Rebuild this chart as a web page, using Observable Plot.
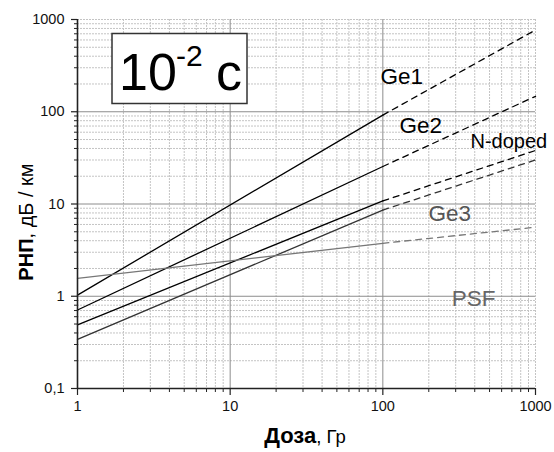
<!DOCTYPE html>
<html>
<head>
<meta charset="utf-8">
<script src="https://cdn.jsdelivr.net/npm/d3@7"></script>
<script src="https://cdn.jsdelivr.net/npm/@observablehq/plot@0.6"></script>
<style>
  html, body { margin: 0; padding: 0; background: #fff; }
  #chart { width: 554px; height: 452px; }
</style>
</head>
<body>
<div id="chart"></div>
<script>
// ---- data ----
const doses = [1, 100, 1000];              // Гр: start, end of measured part, end of extrapolation
const fibers = ["Ge1", "Ge2", "N-doped", "Ge3", "PSF"];
const ge1 = [1.03, 92, 770];
const ge2 = [0.71, 25.5, 147];
const nDoped = [0.49, 10.8, 38];
const ge3 = [0.34, 8.6, 30];
const psf = [1.56, 3.75, 5.6];
const lineColors = ["#000", "#000", "#000", "#333", "#777"];

const labelText = ["Ge1", "Ge2", "N-doped", "Ge3", "PSF"];
const labelX = [96.6, 128.5, 375, 199, 283];
const labelY = [199, 59.5, 40.9, 6.56, 0.79];
const labelColors = ["#000", "#000", "#000", "#555", "#666"];
const labelSizes = [22.5, 22.5, 20, 22.5, 22.5];

const xTicks = [1, 10, 100, 1000];
const xTickLabels = ["1", "10", "100", "1000"];
const yTicks = [0.1, 1, 10, 100, 1000];
const yTickLabels = ["0,1", "1", "10", "100", "1000"];
const mults = [2, 3, 4, 5, 6, 7, 8, 9];
const xMinor = [1, 10, 100].flatMap(d => mults.map(m => d * m));
const yMinor = [0.1, 1, 10, 100].flatMap(d => mults.map(m => +(d * m).toPrecision(3)));

// ---- tables ----
const series = [ge1, ge2, nDoped, ge3, psf];
const solid = fibers.flatMap((f, i) => [0, 1].map(j => ({fiber: f, x: doses[j], y: series[i][j]})));
const dashed = fibers.flatMap((f, i) => [1, 2].map(j => ({fiber: f, x: doses[j], y: series[i][j]})));
const labels = labelText.map((t, i) => ({t, x: labelX[i], y: labelY[i], c: labelColors[i], s: labelSizes[i]}));

const font = "'Liberation Sans', Arial, sans-serif";
const minorGrid = {stroke: "#c4c4c4", strokeOpacity: 1, strokeDasharray: "2,1", strokeWidth: 1};
const majorGrid = {stroke: "#8c8c8c", strokeOpacity: 1, strokeWidth: 1};

const chart = Plot.plot({
  width: 554,
  height: 452,
  marginLeft: 77,
  marginRight: 19,
  marginTop: 19,
  marginBottom: 64,
  style: {fontFamily: font, fontSize: "14px", color: "#222", background: "#fff"},
  x: {type: "log", domain: [1, 1000]},
  y: {type: "log", domain: [0.1, 1000]},
  color: {domain: fibers, range: lineColors},
  marks: [
    Plot.gridX([...xMinor, 1000], minorGrid),
    Plot.gridY([...yMinor, 1000], minorGrid),
    Plot.gridX([10, 100], majorGrid),
    Plot.gridY([1, 10, 100], majorGrid),
    Plot.line(solid, {x: "x", y: "y", z: "fiber", stroke: "fiber", strokeWidth: 1.3}),
    Plot.line(dashed, {x: "x", y: "y", z: "fiber", stroke: "fiber", strokeWidth: 1.3, strokeDasharray: "6,5"}),
    Plot.axisX(xMinor, {tickSize: 4, text: null, label: null, stroke: "#222"}),
    Plot.axisX(xTicks, {tickSize: 7, tickPadding: 5, label: null, fontSize: 14.5, fill: "#111",
      tickFormat: d => xTickLabels[xTicks.indexOf(+d)], stroke: "#222", strokeWidth: 1.2}),
    Plot.axisY(yMinor, {tickSize: 3, text: null, label: null, stroke: "#222"}),
    Plot.axisY(yTicks, {tickSize: 6, tickPadding: 7, label: null, fontSize: 14.5, fill: "#111",
      tickFormat: d => yTickLabels[yTicks.indexOf(+d)], stroke: "#222", strokeWidth: 1.2}),
    Plot.ruleX([1], {stroke: "#222", strokeWidth: 1.6}),
    Plot.ruleY([0.1], {stroke: "#222", strokeWidth: 1.6}),
    Plot.text(labels, {x: "x", y: "y", text: "t", fill: "c", fontSize: d => d.s, textAnchor: "start", lineAnchor: "bottom"})
  ]
});
document.getElementById("chart").appendChild(chart);

// ---- annotations: axis titles and the time box ----
const svg = d3.select(chart);
const yl = svg.append("text")
  .attr("transform", "translate(33,222) rotate(-90)")
  .attr("text-anchor", "middle")
  .attr("font-family", font).attr("font-size", 20).attr("fill", "#000");
yl.append("tspan").attr("font-weight", "bold").text("РНП");
yl.append("tspan").text(", дБ / км");

const xl = svg.append("text")
  .attr("x", 305).attr("y", 443)
  .attr("text-anchor", "middle")
  .attr("font-family", font).attr("font-size", 18.5).attr("fill", "#000");
xl.append("tspan").attr("font-weight", "bold").attr("font-size", 22).text("Доза");
xl.append("tspan").text(", Гр");

const box = svg.append("g").attr("font-family", font).attr("fill", "#000").attr("text-anchor", "start");
box.append("rect").attr("x", 112).attr("y", 33.5).attr("width", 135).attr("height", 70)
  .attr("fill", "#fff").attr("stroke", "#333").attr("stroke-width", 1.5);
box.append("text").attr("x", 119).attr("y", 89.5).attr("font-size", 52).text("10");
box.append("text").attr("x", 176).attr("y", 66).attr("font-size", 30).text("-2");
box.append("text").attr("x", 216).attr("y", 89.5).attr("font-size", 52).text("c");
</script>
</body>
</html>
